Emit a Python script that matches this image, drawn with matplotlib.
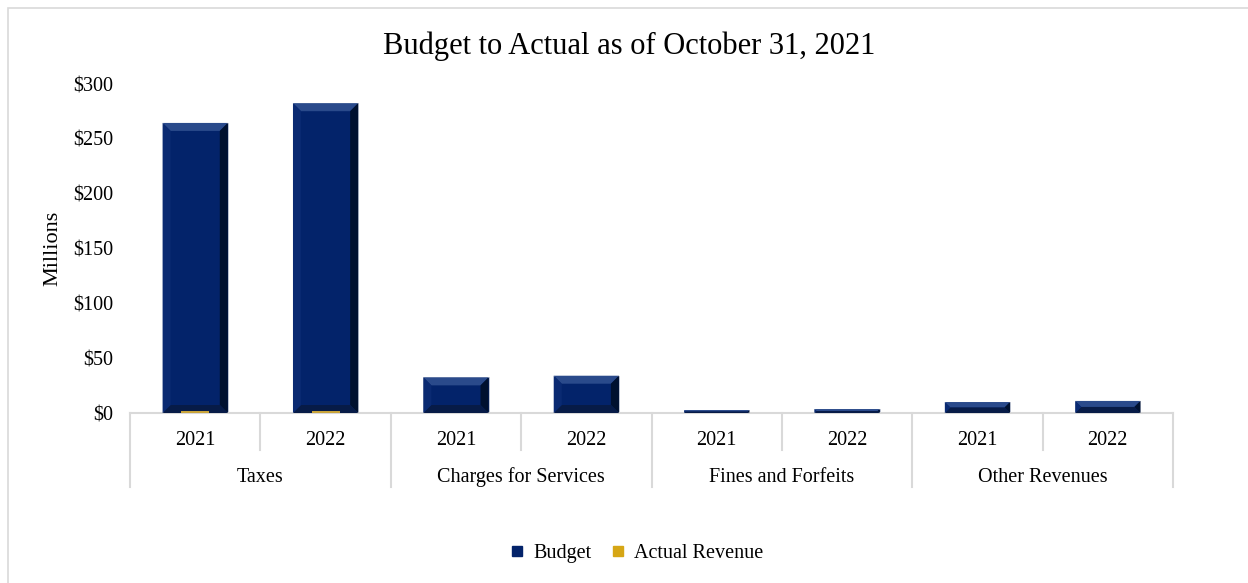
import matplotlib.pyplot as plt
from matplotlib.patches import Polygon, Rectangle
from matplotlib.lines import Line2D
import numpy as np

plt.rcParams['font.family'] = ['Liberation Serif', 'DejaVu Serif']

# revenue categories and fiscal years (millions)
groups = ['Taxes', 'Charges for Services', 'Fines and Forfeits', 'Other Revenues']
years = ['2021', '2022']
budget = [264.5, 282.5, 32.5, 34.0, 2.7, 3.6, 10.0, 11.0]
actual = [1.8, 1.8, 0.4, 0.4, 0.1, 0.1, 0.3, 0.3]
yticks = [0, 50, 100, 150, 200, 250, 300]

navy = '#03236a'
gold = '#c9a43a'

fig = plt.figure(figsize=(12.48, 5.83), dpi=100)
fig.patches.append(Rectangle((8 / 1248, -0.05), 1.2, 1 - 8 / 583 + 0.05,
                             transform=fig.transFigure, fill=False,
                             edgecolor='#d9d9d9', linewidth=1.2))

ax = fig.add_axes([130 / 1248, 1 - 413 / 583, (1173 - 130) / 1248, (413 - 84) / 583])
x = np.arange(len(budget))
bw = 0.5
ax.bar(x, budget, width=bw, color=navy, edgecolor='#c8cdd8', linewidth=0.6, zorder=2)

# bevelled edges on each budget bar
bx = 8 / 130.4          # bevel width in x data units
by = 8 * 300 / 329      # bevel height in y data units
for xi, h in zip(x, budget):
    l, r = xi - bw / 2, xi + bw / 2
    dy = min(by, h / 2)
    dx = bx * dy / by
    il, ir, ib, it = l + dx, r - dx, dy, h - dy
    faces = [
        ([(l, h), (r, h), (ir, it), (il, it)], '#2a4a8b'),   # top
        ([(r, 0), (r, h), (ir, it), (ir, ib)], '#00112f'),   # right
        ([(l, 0), (r, 0), (ir, ib), (il, ib)], '#071b47'),   # bottom
        ([(l, 0), (l, h), (il, it), (il, ib)], '#0a2a72'),   # left
    ]
    for pts, c in faces:
        ax.add_patch(Polygon(pts, closed=True, facecolor=c, edgecolor='none', zorder=3))

ax.bar(x, actual, width=0.215, color=gold, zorder=4)

ax.set_xlim(-0.5, len(budget) - 0.5)
ax.set_ylim(0, 300)
ax.set_yticks(yticks)
ax.set_yticklabels([f'${v}' for v in yticks], fontsize=14.5)
ax.tick_params(axis='y', length=0, pad=12)
ax.set_xticks([])
for s in ['top', 'right', 'left']:
    ax.spines[s].set_visible(False)
ax.spines['bottom'].set_color('#d9d9d9')
ax.spines['bottom'].set_linewidth(1.5)
ax.set_ylabel('Millions', fontsize=16, labelpad=8)

# two-level category axis
tr = ax.get_xaxis_transform()
for i in range(len(budget)):
    ax.text(i, -0.097, years[i % 2], transform=tr, ha='center', va='baseline', fontsize=14.5)
for g, name in enumerate(groups):
    ax.text(2 * g + 0.5, -0.21, name, transform=tr, ha='center', va='baseline', fontsize=14.5)
for k in range(len(budget) + 1):
    low = -0.225 if k % 2 == 0 else -0.112
    ax.add_line(Line2D([k - 0.5, k - 0.5], [0, low], transform=tr, color='#d9d9d9',
                       linewidth=1.5, clip_on=False))

fig.text(629 / 1248, 1 - 46 / 583, 'Budget to Actual as of October 31, 2021',
         ha='center', va='center', fontsize=22)

handles = [Line2D([], [], marker='s', linestyle='none', markersize=7, color=navy),
           Line2D([], [], marker='s', linestyle='none', markersize=7, color='#d6a615')]
fig.legend(handles, ['Budget', 'Actual Revenue'], loc='center',
           bbox_to_anchor=(636 / 1248, 1 - 553 / 583), ncol=2, frameon=False,
           fontsize=14.5, handlelength=0.8, handletextpad=0.4, columnspacing=0.9)

fig.savefig('out.png', dpi=100)
